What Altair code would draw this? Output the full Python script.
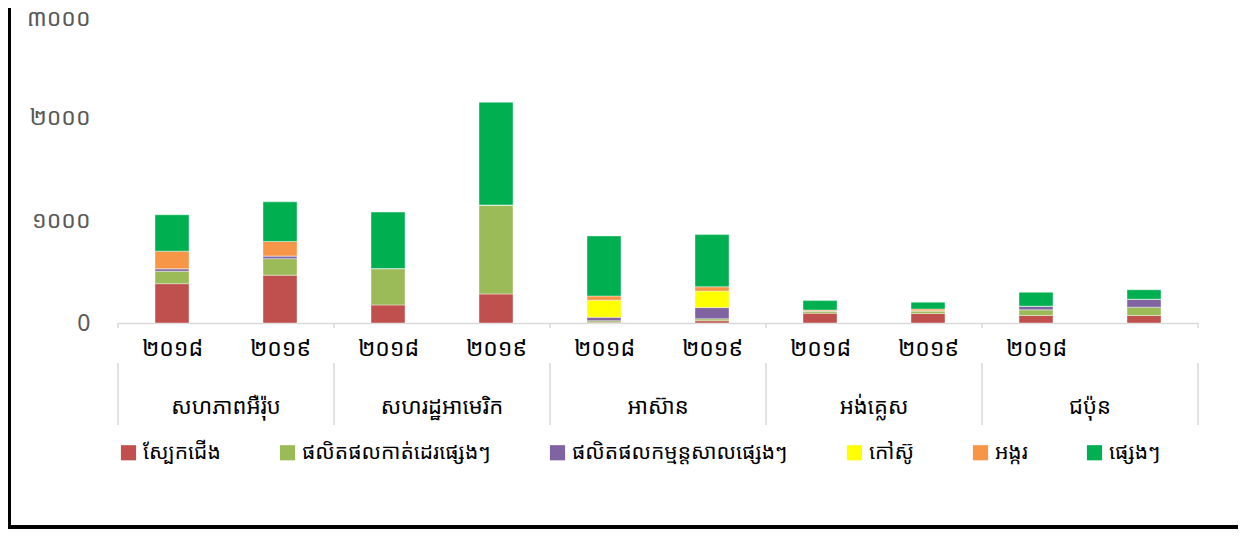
import altair as alt
import pandas as pd

regions = ["សហភាពអឺរ៉ុប", "សហរដ្ឋអាមេរិក", "អាស៊ាន", "អង់គ្លេស", "ជប៉ុន"]
years = ["២០១៨", "២០១៩"]
year_labels = ["២០១៨", "២០១៩", "២០១៨", "២០១៩", "២០១៨", "២០១៩", "២០១៨", "២០១៩", "២០១៨", ""]
series = ["ស្បែកជើង", "ផលិតផលកាត់ដេរផ្សេងៗ", "ផលិតផលកម្មន្តសាលផ្សេងៗ", "កៅស៊ូ", "អង្ករ", "ផ្សេងៗ"]
colors = ["#C0504D", "#9BBB59", "#8064A2", "#FFFF00", "#F79646", "#00B050"]

footwear = [383, 466, 176, 283, 8, 22, 96, 93, 73, 73]
garment = [121, 161, 354, 867, 15, 19, 22, 26, 55, 81]
manufact = [25, 26, 0, 0, 32, 109, 0, 0, 36, 78]
rubber = [0, 0, 0, 0, 167, 161, 0, 0, 0, 0]
rice = [171, 141, 0, 0, 41, 42, 8, 17, 0, 0]
others = [354, 386, 550, 1000, 585, 508, 92, 67, 135, 92]

y_ticks = [0, 1000, 2000, 3000]
y_tick_labels = ["0", "១០០០", "២០០០", "៣០០០"]

values = [footwear, garment, manufact, rubber, rice, others]
rows = []
for si, (name, vals) in enumerate(zip(series, values)):
    for i, v in enumerate(vals):
        rows.append({"pos": i + 0.5, "series": name, "ord": si, "value": v,
                     "region": regions[i // 2], "year": years[i % 2]})
df = pd.DataFrame(rows)

reg_df = pd.DataFrame({"region": regions, "center": [2 * k + 1 for k in range(len(regions))]})
sep_df = pd.DataFrame({"b": [2 * k for k in range(len(regions) + 1)]})

FONT = "Noto Sans Khmer, Khmer OS, Khmer OS System, Noto Sans, DejaVu Sans"
W, H = 1080, 308
TOP = 7

x_label_expr = "[" + ",".join("'%s'" % s for s in year_labels) + "][floor(datum.value)]"
y_label_expr = "[" + ",".join("'%s'" % s for s in y_tick_labels) + "][round(datum.value/1000)]"

xscale = alt.Scale(domain=[0, 10], nice=False, zero=False, padding=0)

bars = alt.Chart(df).mark_bar(size=34, stroke="white", strokeWidth=0.4).encode(
    x=alt.X("pos:Q", scale=xscale,
            axis=alt.Axis(values=[i + 0.5 for i in range(10)], labelExpr=x_label_expr,
                          title=None, grid=False, ticks=False, domainColor="#D9D9D9",
                          domainWidth=1.5, labelFontSize=23, labelColor="#000000",
                          labelFont=FONT, labelPadding=14, labelBaseline="top")),
    y=alt.Y("value:Q", stack="zero", scale=alt.Scale(domain=[0, 3000], nice=False),
            axis=alt.Axis(values=y_ticks, labelExpr=y_label_expr, title=None, grid=False,
                          ticks=False, domain=False, labelFontSize=23, labelColor="#595959",
                          labelFont=FONT, labelPadding=28,
                          labelOffset=alt.condition("datum.value == 3000", alt.value(3), alt.value(0)))),
    color=alt.Color("series:N", scale=alt.Scale(domain=series, range=colors),
                    legend=alt.Legend(title=None, orient="none", legendX=0, legendY=440 - TOP - 6,
                                      direction="horizontal", columnPadding=56,
                                      symbolType="square", symbolSize=230,
                                      symbolStrokeWidth=0, labelFontSize=21,
                                      labelFont=FONT, labelLimit=0, labelColor="#000000")),
    order=alt.Order("ord:Q", sort="ascending"),
)

seps = alt.Chart(sep_df).mark_rule(color="#D9D9D9", strokeWidth=1.5).encode(
    x=alt.X("b:Q", scale=xscale), y=alt.value(355 - TOP), y2=alt.value(425 - 8 - TOP))
ticks = alt.Chart(sep_df).mark_rule(color="#D9D9D9", strokeWidth=1.5).encode(
    x=alt.X("b:Q", scale=xscale), y=alt.value(H), y2=alt.value(H + 5))

reg_text = alt.Chart(reg_df).mark_text(fontSize=22, font=FONT, color="#000000",
                                        baseline="middle").encode(
    x=alt.X("center:Q", scale=xscale), y=alt.value(407 - 8 - TOP), text="region:N")

frame_left = alt.Chart(sep_df).mark_rule(color="#000000", strokeWidth=3).encode(
    x=alt.value(-109), y=alt.value(-TOP), y2=alt.value(527 - 8 - TOP))
frame_bottom = alt.Chart(sep_df).mark_rule(color="#000000", strokeWidth=3).encode(
    x=alt.value(-110), x2=alt.value(W + 40), y=alt.value(527 - 8 - TOP))

chart = alt.layer(bars, seps, ticks, reg_text, frame_left, frame_bottom).properties(
    width=W, height=H,
    autosize=alt.AutoSizeParams(type="none"),
    padding={"left": 110, "top": TOP, "right": 40, "bottom": 524 - TOP - H},
).configure(background="white").configure_view(stroke=None, strokeWidth=0)

chart.save("out.html", embed_options={"renderer": "svg", "actions": False})
